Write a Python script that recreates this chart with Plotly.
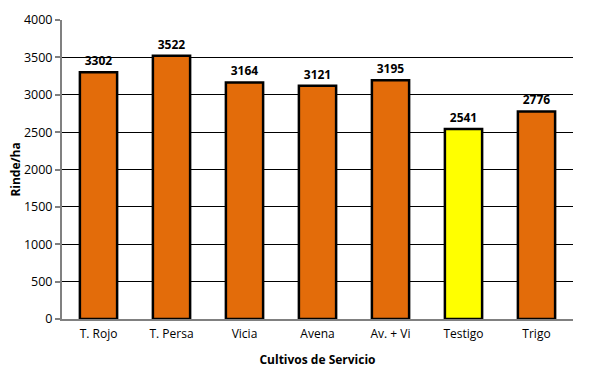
import plotly.graph_objects as go

categories = ["T. Rojo", "T. Persa", "Vicia", "Avena", "Av. + Vi", "Testigo", "Trigo"]
values = [3302, 3522, 3164, 3121, 3195, 2541, 2776]
colors = ["#E36C0A", "#E36C0A", "#E36C0A", "#E36C0A", "#E36C0A", "#FFFF00", "#E36C0A"]
y_ticks = [0, 500, 1000, 1500, 2000, 2500, 3000, 3500, 4000]

font = "Open Sans, Noto Sans, sans-serif"

fig = go.Figure(go.Bar(
    x=categories, y=values,
    marker=dict(color=colors, line=dict(color="#000000", width=2.5)),
    text=[str(v) for v in values], textposition="outside",
    textfont=dict(family=font, size=12, color="#000000", weight="bold"),
    cliponaxis=False,
))

fig.update_layout(
    width=599, height=373,
    margin=dict(l=62, r=26, t=20, b=54),
    paper_bgcolor="white", plot_bgcolor="white",
    bargap=0.49,
    showlegend=False,
    font=dict(family=font, size=12, color="#000000"),
    xaxis=dict(
        automargin=False,
        showline=True, linecolor="#808080", linewidth=2,
        showgrid=False, ticks="", tickfont=dict(size=12), ticklabelstandoff=3,
        title=dict(text="<b>Cultivos de Servicio</b>", font=dict(size=12), standoff=14),
    ),
    yaxis=dict(
        automargin=False,
        range=[0, 4000], tickvals=y_ticks,
        showline=True, linecolor="#808080", linewidth=2,
        showgrid=True, gridcolor="#000000", gridwidth=1,
        ticks="outside", ticklen=5, tickcolor="#808080", tickwidth=1.5,
        tickfont=dict(size=12.5), zeroline=False,
        title=dict(text="<b>Rinde/ha</b>", font=dict(size=12), standoff=0),
    ),
)

fig.write_html("out.html", config={"displayModeBar": False},
               post_script="document.body.style.margin='0';")
